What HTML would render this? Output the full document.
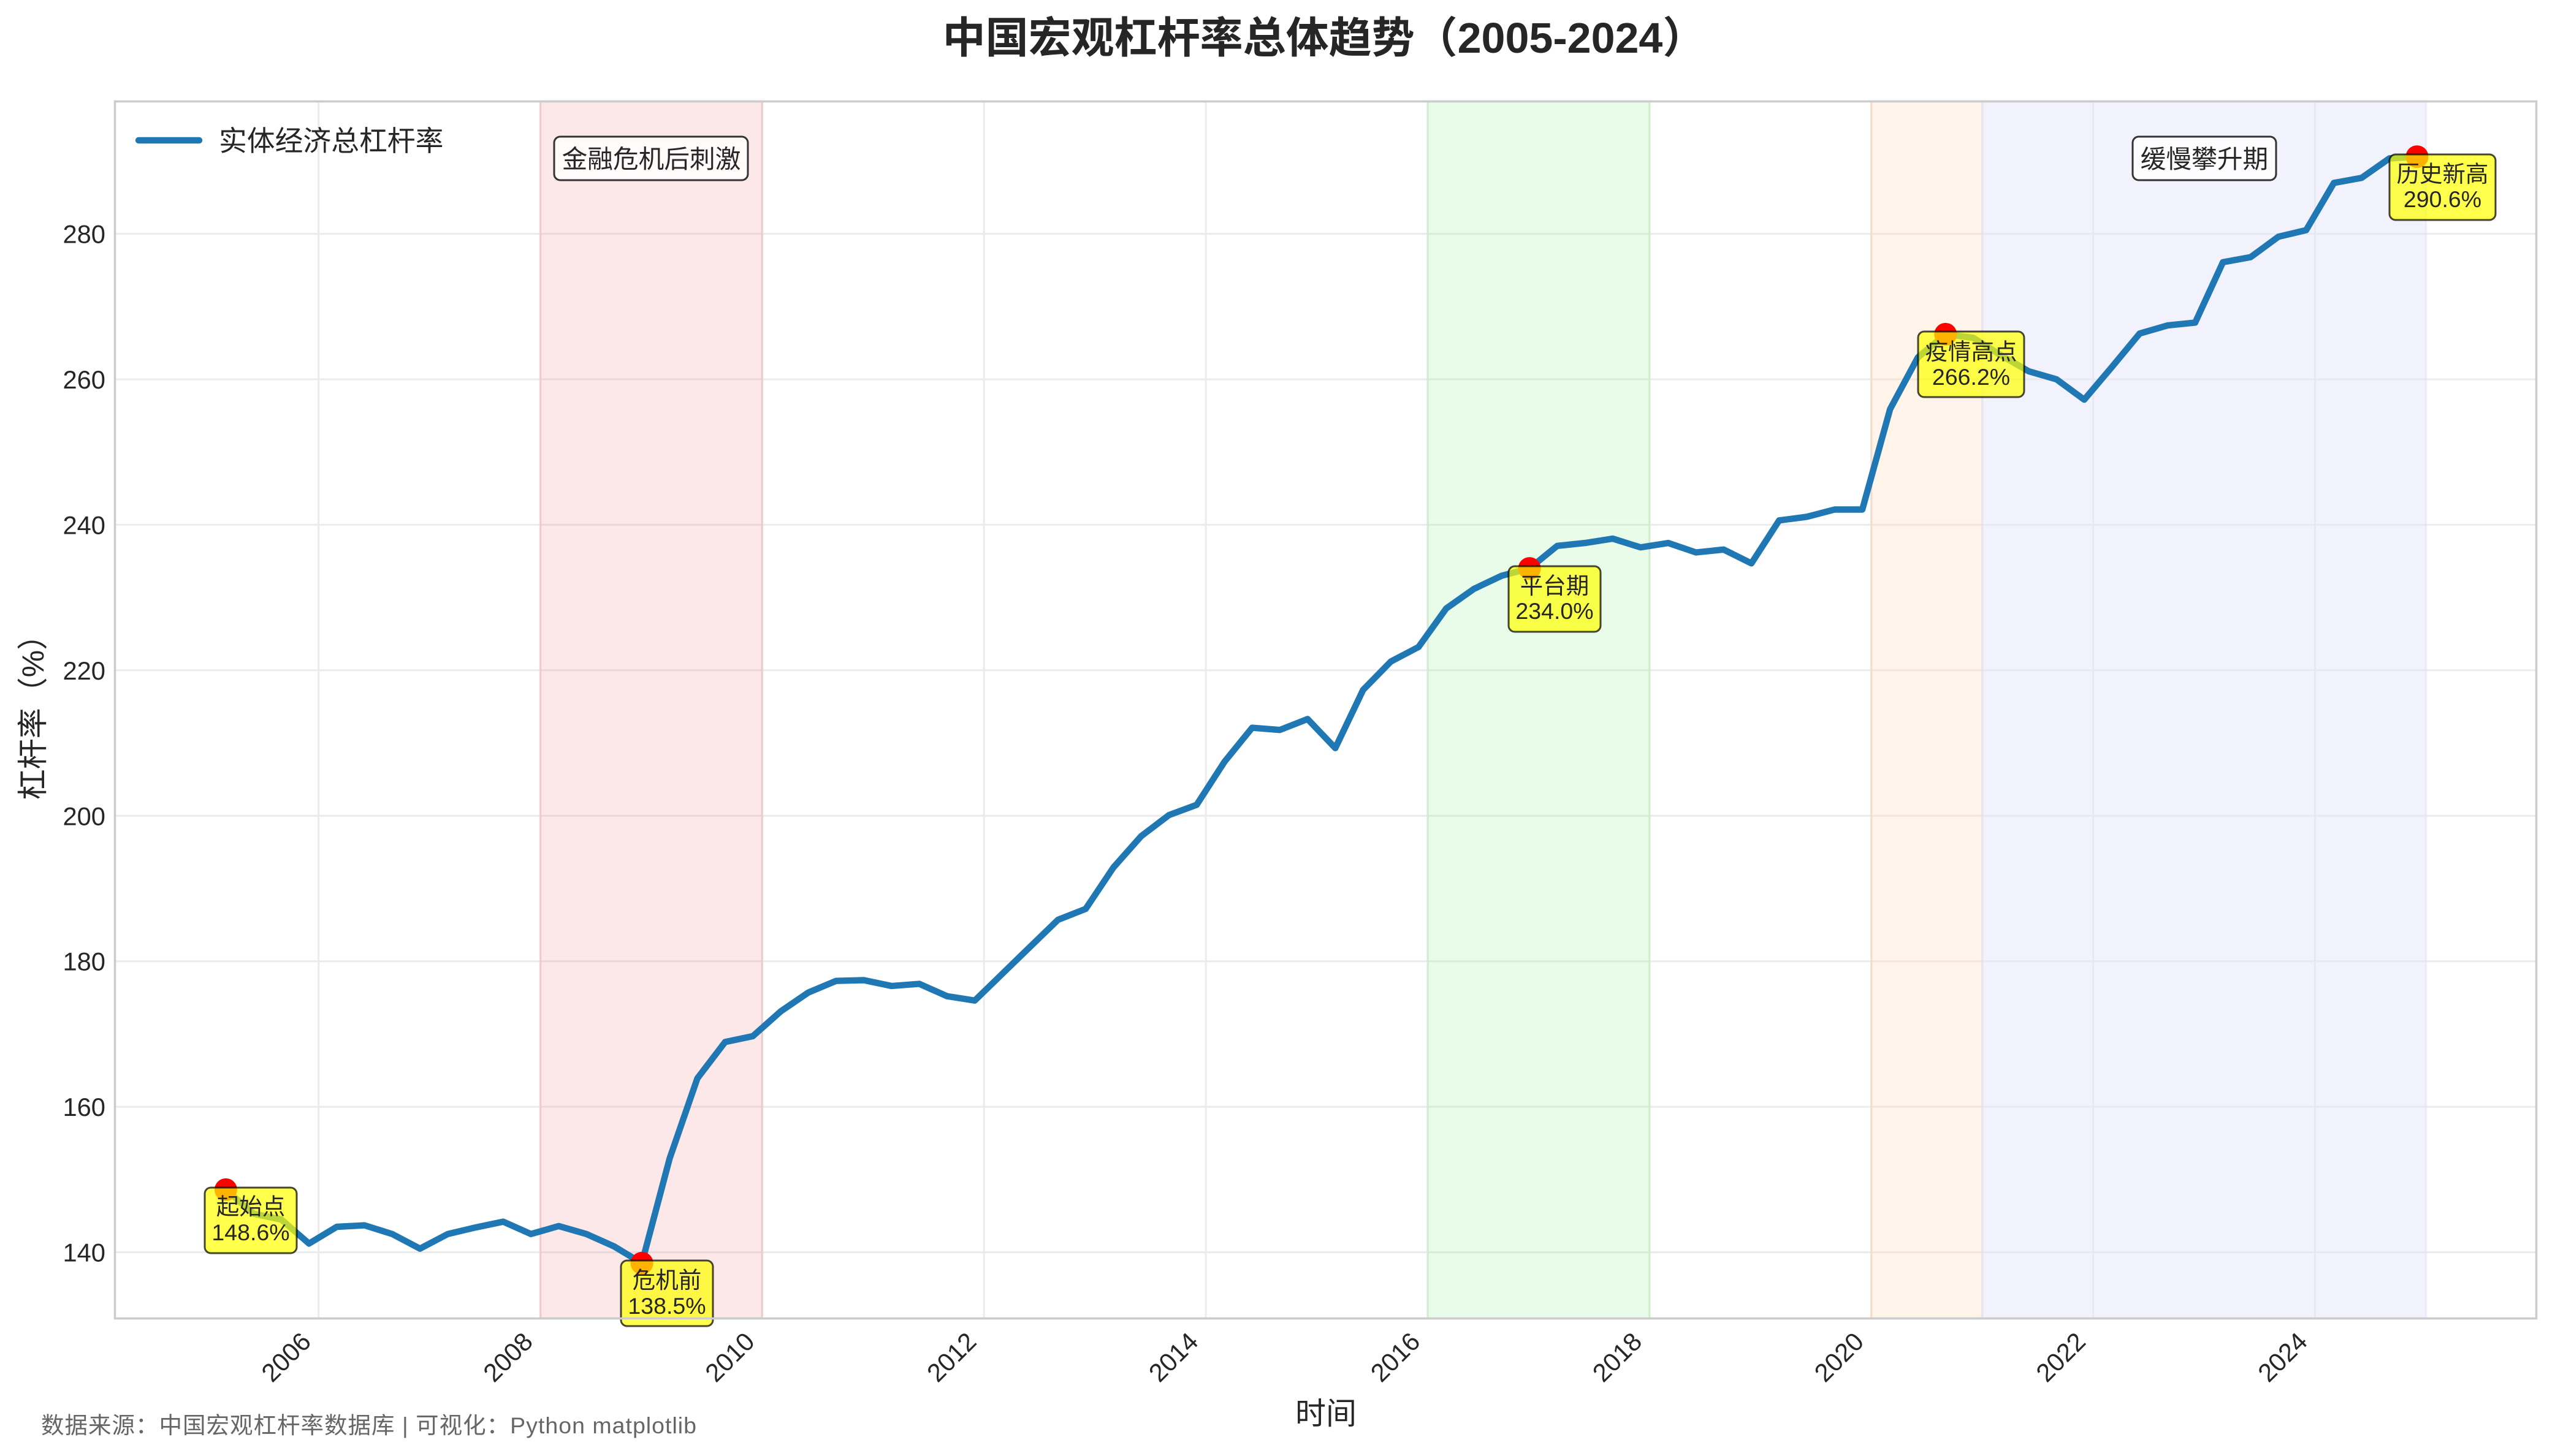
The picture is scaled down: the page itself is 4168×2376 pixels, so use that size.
<!DOCTYPE html>
<html>
<head>
<meta charset="utf-8">
<style>
  html,body{margin:0;padding:0;background:#ffffff;}
  svg{display:block;}
  text{font-family:"Liberation Sans","Noto Sans CJK SC",sans-serif;fill:#262626;}
</style>
</head>
<body>
<svg width="4168" height="2376" viewBox="0 0 4168 2376" xmlns="http://www.w3.org/2000/svg">
  <rect x="0" y="0" width="4168" height="2376" fill="#ffffff"/>

  <!-- grid -->
  <g stroke="#ebebeb" stroke-width="3">
    <line x1="187.5" y1="2043.5" x2="4137.5" y2="2043.5"/>
    <line x1="187.5" y1="1806.1" x2="4137.5" y2="1806.1"/>
    <line x1="187.5" y1="1568.7" x2="4137.5" y2="1568.7"/>
    <line x1="187.5" y1="1331.3" x2="4137.5" y2="1331.3"/>
    <line x1="187.5" y1="1093.8" x2="4137.5" y2="1093.8"/>
    <line x1="187.5" y1="856.4" x2="4137.5" y2="856.4"/>
    <line x1="187.5" y1="619.0" x2="4137.5" y2="619.0"/>
    <line x1="187.5" y1="381.6" x2="4137.5" y2="381.6"/>
    <line x1="519.6" y1="165.5" x2="519.6" y2="2151.5"/>
    <line x1="881.5" y1="165.5" x2="881.5" y2="2151.5"/>
    <line x1="1243.4" y1="165.5" x2="1243.4" y2="2151.5"/>
    <line x1="1605.2" y1="165.5" x2="1605.2" y2="2151.5"/>
    <line x1="1967.1" y1="165.5" x2="1967.1" y2="2151.5"/>
    <line x1="2329.0" y1="165.5" x2="2329.0" y2="2151.5"/>
    <line x1="2690.9" y1="165.5" x2="2690.9" y2="2151.5"/>
    <line x1="3052.8" y1="165.5" x2="3052.8" y2="2151.5"/>
    <line x1="3414.6" y1="165.5" x2="3414.6" y2="2151.5"/>
    <line x1="3776.5" y1="165.5" x2="3776.5" y2="2151.5"/>
  </g>

  <!-- shaded periods -->
  <rect x="881.5" y="165.5" width="361.9" height="1986" fill="#f08080" fill-opacity="0.18" stroke="#f08080" stroke-opacity="0.2" stroke-width="3.5"/>
  <rect x="2329.0" y="165.5" width="361.9" height="1986" fill="#90ee90" fill-opacity="0.2" stroke="#90ee90" stroke-opacity="0.2" stroke-width="3.5"/>
  <rect x="3052.8" y="165.5" width="180.9" height="1986" fill="#ffdab9" fill-opacity="0.3" stroke="#f4c8a8" stroke-opacity="0.3" stroke-width="3.5"/>
  <rect x="3233.7" y="165.5" width="723.8" height="1986" fill="#e6e6fa" fill-opacity="0.5" stroke="#e0e0f8" stroke-opacity="0.5" stroke-width="3.5"/>

  <!-- main line -->
  <polyline fill="none" stroke="#1f77b4" stroke-width="10.4" stroke-linejoin="round" stroke-linecap="round"
    points="368.4,1941.4 413.6,1980.6 458.9,1990.1 504.1,2029.3 549.4,2002.0 594.6,1999.6 639.9,2013.8 685.1,2037.6 730.4,2013.8 775.6,2003.1 820.9,1993.6 866.1,2013.8 911.4,2000.8 956.6,2013.8 1001.9,2034.0 1047.1,2061.3 1092.4,1890.4 1137.6,1759.8 1182.9,1700.4 1228.1,1690.9 1273.4,1650.6 1318.6,1619.7 1363.9,1600.7 1409.1,1599.5 1454.4,1609.0 1499.6,1605.5 1544.9,1625.6 1590.1,1632.8 1635.4,1588.8 1680.6,1544.9 1725.9,1501.0 1771.1,1483.2 1816.4,1415.5 1861.6,1364.5 1906.9,1330.1 1952.1,1313.4 1997.3,1243.4 2042.6,1187.6 2087.8,1191.2 2133.1,1173.4 2178.3,1220.8 2223.6,1125.9 2268.8,1079.6 2314.1,1055.8 2359.3,992.9 2404.6,960.9 2449.8,939.5 2495.1,927.6 2540.3,890.8 2585.6,886.1 2630.8,879.0 2676.1,893.2 2721.3,886.1 2766.6,901.5 2811.8,896.8 2857.1,919.3 2902.3,849.3 2947.6,843.3 2992.8,831.5 3038.0,831.5 3083.3,667.7 3128.5,583.4 3173.8,545.4 3219.0,551.3 3264.3,579.8 3309.5,605.9 3354.8,619.0 3400.0,652.2 3445.3,598.8 3490.5,544.2 3535.8,531.1 3581.0,526.4 3626.3,427.9 3671.5,419.6 3716.8,386.3 3762.0,375.6 3807.3,298.5 3852.5,290.2 3897.8,258.5 3943.0,255.7"/>

  <!-- red markers -->
  <g fill="#ff0000">
    <circle cx="368.4" cy="1941.4" r="18.5"/>
    <circle cx="1047.1" cy="2061.3" r="18.5"/>
    <circle cx="2495.1" cy="927.6" r="18.5"/>
    <circle cx="3173.8" cy="545.4" r="18.5"/>
    <circle cx="3943.0" cy="255.7" r="18.5"/>
  </g>

  <!-- annotation boxes -->
  <g fill="#ffff00" fill-opacity="0.7" stroke="#000000" stroke-opacity="0.72" stroke-width="3">
    <rect x="334" y="1938" width="150" height="107" rx="10" ry="10"/>
    <rect x="1013" y="2057" width="150" height="107" rx="10" ry="10"/>
    <rect x="2461" y="924" width="150" height="107" rx="10" ry="10"/>
    <rect x="3129" y="541" width="173" height="107" rx="10" ry="10"/>
    <rect x="3898" y="252" width="173" height="107" rx="10" ry="10"/>
  </g>
  <g font-size="37.5" text-anchor="middle">
    <text x="409" y="1982">起始点</text>
    <text x="409" y="2024">148.6%</text>
    <text x="1088" y="2102">危机前</text>
    <text x="1088" y="2144">138.5%</text>
    <text x="2536" y="969">平台期</text>
    <text x="2536" y="1010">234.0%</text>
    <text x="3215.5" y="587">疫情高点</text>
    <text x="3215.5" y="628">266.2%</text>
    <text x="3984.5" y="297">历史新高</text>
    <text x="3984.5" y="338">290.6%</text>
  </g>

  <!-- period labels -->
  <g fill="#ffffff" fill-opacity="0.8" stroke="#333333" stroke-width="3">
    <rect x="904" y="223" width="316" height="71" rx="10" ry="10"/>
    <rect x="3479" y="223" width="234" height="71" rx="10" ry="10"/>
  </g>
  <g font-size="41.7" text-anchor="middle">
    <text x="1062.5" y="274">金融危机后刺激</text>
    <text x="3596" y="274">缓慢攀升期</text>
  </g>

  <!-- legend -->
  <line x1="226" y1="229" x2="325" y2="229" stroke="#1f77b4" stroke-width="10.4" stroke-linecap="round"/>
  <text x="357" y="246" font-size="45.8">实体经济总杠杆率</text>

  <!-- spines -->
  <rect x="187.5" y="165.5" width="3950" height="1986" fill="none" stroke="#cccccc" stroke-width="3.5"/>

  <!-- y tick labels -->
  <g font-size="41.7" text-anchor="end">
    <text x="172" y="2058.5">140</text>
    <text x="172" y="1821.1">160</text>
    <text x="172" y="1583.7">180</text>
    <text x="172" y="1346.3">200</text>
    <text x="172" y="1108.8">220</text>
    <text x="172" y="871.4">240</text>
    <text x="172" y="634.0">260</text>
    <text x="172" y="396.6">280</text>
  </g>

  <!-- x tick labels -->
  <g font-size="41.7" text-anchor="end">
    <text transform="translate(509.6,2192) rotate(-45)">2006</text>
    <text transform="translate(871.5,2192) rotate(-45)">2008</text>
    <text transform="translate(1233.4,2192) rotate(-45)">2010</text>
    <text transform="translate(1595.2,2192) rotate(-45)">2012</text>
    <text transform="translate(1957.1,2192) rotate(-45)">2014</text>
    <text transform="translate(2319.0,2192) rotate(-45)">2016</text>
    <text transform="translate(2680.9,2192) rotate(-45)">2018</text>
    <text transform="translate(3042.8,2192) rotate(-45)">2020</text>
    <text transform="translate(3404.6,2192) rotate(-45)">2022</text>
    <text transform="translate(3766.5,2192) rotate(-45)">2024</text>
  </g>

  <!-- axis labels -->
  <text x="2163" y="2324" font-size="50" text-anchor="middle">时间</text>
  <text transform="translate(71,1158) rotate(-90)" font-size="50" text-anchor="middle">杠杆率（%）</text>

  <!-- title -->
  <text x="2160" y="86" font-size="70" font-weight="bold" text-anchor="middle">中国宏观杠杆率总体趋势（2005-2024）</text>

  <!-- footnote -->
  <text x="67" y="2339" font-size="37.5" textLength="1069" lengthAdjust="spacing" style="fill:#666666">数据来源：中国宏观杠杆率数据库 | 可视化：Python matplotlib</text>
</svg>
</body>
</html>
